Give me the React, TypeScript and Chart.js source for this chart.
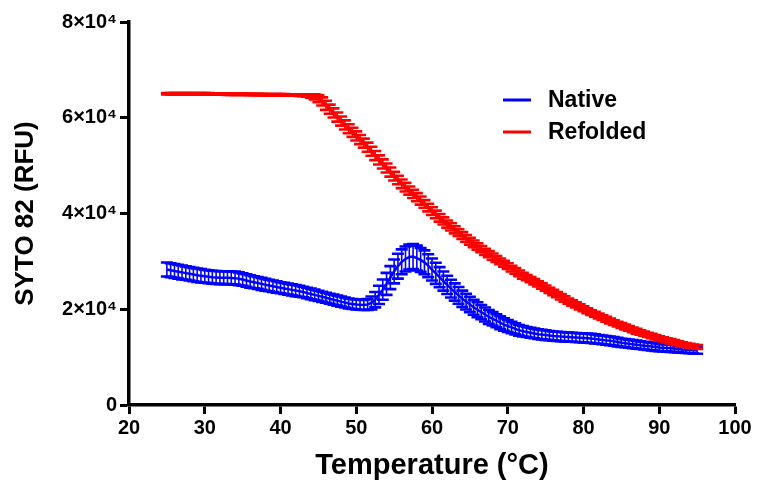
import React, { useEffect, useRef } from 'react';
import { Chart, registerables } from 'chart.js';

Chart.register(...registerables);

// Temperatures (°C) of the melt-curve readings
const temperatures: number[] = [
  25, 25.5, 26, 26.5, 27, 27.5, 28, 28.5, 29, 29.5,
  30, 30.5, 31, 31.5, 32, 32.5, 33, 33.5, 34, 34.5,
  35, 35.5, 36, 36.5, 37, 37.5, 38, 38.5, 39, 39.5,
  40, 40.5, 41, 41.5, 42, 42.5, 43, 43.5, 44, 44.5,
  45, 45.5, 46, 46.5, 47, 47.5, 48, 48.5, 49, 49.5,
  50, 50.5, 51, 51.5, 52, 52.5, 53, 53.5, 54, 54.5,
  55, 55.5, 56, 56.5, 57, 57.5, 58, 58.5, 59, 59.5,
  60, 60.5, 61, 61.5, 62, 62.5, 63, 63.5, 64, 64.5,
  65, 65.5, 66, 66.5, 67, 67.5, 68, 68.5, 69, 69.5,
  70, 70.5, 71, 71.5, 72, 72.5, 73, 73.5, 74, 74.5,
  75, 75.5, 76, 76.5, 77, 77.5, 78, 78.5, 79, 79.5,
  80, 80.5, 81, 81.5, 82, 82.5, 83, 83.5, 84, 84.5,
  85, 85.5, 86, 86.5, 87, 87.5, 88, 88.5, 89, 89.5,
  90, 90.5, 91, 91.5, 92, 92.5, 93, 93.5, 94, 94.5,
  95,
];

// Native: mean fluorescence (thousands of RFU)
const nativeMeanK: number[] = [
  28.3, 28.15, 28.0, 27.85, 27.7, 27.55, 27.4, 27.25, 27.1, 27.0,
  26.9, 26.8, 26.7, 26.65, 26.6, 26.6, 26.6, 26.55, 26.5, 26.35,
  26.2, 26.0, 25.8, 25.65, 25.5, 25.3, 25.1, 24.95, 24.8, 24.65,
  24.5, 24.35, 24.2, 24.05, 23.9, 23.75, 23.6, 23.4, 23.2, 23.0,
  22.8, 22.6, 22.4, 22.2, 22.0, 21.8, 21.6, 21.4, 21.2, 21.1,
  21.0, 20.95, 20.9, 21.0, 21.3, 22.0, 23.0, 24.1, 25.3, 26.6,
  27.9, 29.0, 29.9, 30.5, 30.9, 31.0, 30.7, 30.3, 29.8, 29.1,
  28.3, 27.5, 26.7, 25.9, 25.1, 24.3, 23.6, 22.9, 22.2, 21.6,
  21.0, 20.4, 19.9, 19.4, 18.9, 18.4, 18.0, 17.6, 17.2, 16.8,
  16.5, 16.2, 15.9, 15.6, 15.4, 15.25, 15.1, 14.95, 14.8, 14.7,
  14.6, 14.5, 14.4, 14.35, 14.3, 14.25, 14.2, 14.15, 14.1, 14.05,
  14.0, 13.95, 13.9, 13.8, 13.7, 13.6, 13.5, 13.4, 13.3, 13.15,
  13.0, 12.9, 12.8, 12.7, 12.6, 12.5, 12.4, 12.3, 12.2, 12.1,
  12.0, 11.95, 11.9, 11.85, 11.8, 11.7, 11.6, 11.55, 11.5, 11.45,
  11.4,
];

// Native: error (thousands of RFU)
const nativeErrK: number[] = [
  1.45, 1.45, 1.45, 1.45, 1.45, 1.4, 1.4, 1.4, 1.4, 1.4,
  1.35, 1.35, 1.35, 1.35, 1.35, 1.35, 1.35, 1.35, 1.35, 1.35,
  1.3, 1.3, 1.3, 1.25, 1.25, 1.25, 1.25, 1.2, 1.2, 1.2,
  1.15, 1.15, 1.15, 1.15, 1.15, 1.15, 1.1, 1.1, 1.1, 1.1,
  1.05, 1.05, 1.05, 1.05, 1.05, 1.05, 1.05, 1.05, 1.05, 1.05,
  1.05, 1.05, 1.05, 1.15, 1.35, 1.6, 1.9, 2.1, 2.3, 2.4,
  2.5, 2.6, 2.6, 2.6, 2.6, 2.6, 2.6, 2.5, 2.5, 2.4,
  2.3, 2.2, 2.1, 2.0, 1.9, 1.85, 1.8, 1.75, 1.7, 1.65,
  1.6, 1.55, 1.55, 1.5, 1.45, 1.45, 1.4, 1.35, 1.35, 1.3,
  1.25, 1.2, 1.15, 1.1, 1.1, 1.05, 1.05, 1.0, 1.0, 1.0,
  1.0, 0.95, 0.95, 0.95, 0.95, 0.95, 0.95, 0.95, 0.95, 0.95,
  0.95, 0.95, 0.95, 0.95, 0.9, 0.9, 0.9, 0.9, 0.9, 0.9,
  0.85, 0.85, 0.85, 0.85, 0.85, 0.8, 0.8, 0.8, 0.8, 0.8,
  0.75, 0.75, 0.75, 0.75, 0.75, 0.7, 0.7, 0.7, 0.7, 0.7,
  0.7,
];

// Refolded: mean fluorescence (thousands of RFU)
const refoldedMeanK: number[] = [
  65.0, 65.0, 65.0, 65.0, 65.0, 65.0, 65.0, 65.0, 65.0, 65.0,
  65.0, 65.0, 64.95, 64.95, 64.95, 64.95, 64.9, 64.9, 64.9, 64.9,
  64.9, 64.9, 64.85, 64.85, 64.85, 64.85, 64.8, 64.8, 64.8, 64.8,
  64.8, 64.8, 64.75, 64.75, 64.75, 64.7, 64.7, 64.65, 64.55, 64.35,
  64.0, 63.4, 62.6, 61.8, 61.0, 60.15, 59.3, 58.5, 57.7, 56.95,
  56.2, 55.45, 54.7, 53.85, 53.0, 52.1, 51.2, 50.35, 49.5, 48.65,
  47.8, 47.0, 46.2, 45.5, 44.8, 44.1, 43.4, 42.7, 42.0, 41.25,
  40.5, 39.8, 39.1, 38.45, 37.8, 37.2, 36.6, 36.0, 35.4, 34.8,
  34.2, 33.65, 33.1, 32.55, 32.0, 31.5, 31.0, 30.5, 30.0, 29.5,
  29.0, 28.5, 28.0, 27.5, 27.0, 26.6, 26.2, 25.75, 25.3, 24.85,
  24.4, 23.95, 23.5, 23.05, 22.6, 22.15, 21.7, 21.3, 20.9, 20.5,
  20.1, 19.7, 19.3, 18.95, 18.6, 18.25, 17.9, 17.55, 17.2, 16.9,
  16.6, 16.3, 16.0, 15.7, 15.4, 15.15, 14.9, 14.65, 14.4, 14.15,
  13.9, 13.7, 13.5, 13.3, 13.1, 12.9, 12.7, 12.55, 12.4, 12.25,
  12.1,
];

// Refolded: error (thousands of RFU)
const refoldedErrK: number[] = [
  0.15, 0.15, 0.15, 0.15, 0.15, 0.15, 0.15, 0.15, 0.15, 0.15,
  0.15, 0.15, 0.15, 0.15, 0.15, 0.15, 0.15, 0.15, 0.15, 0.15,
  0.15, 0.15, 0.15, 0.15, 0.15, 0.15, 0.15, 0.15, 0.15, 0.15,
  0.15, 0.15, 0.15, 0.15, 0.15, 0.15, 0.2, 0.25, 0.35, 0.55,
  0.75, 0.85, 0.95, 0.95, 0.95, 0.95, 0.95, 0.95, 0.95, 0.95,
  0.95, 0.95, 0.95, 0.95, 0.95, 0.95, 0.95, 0.95, 0.95, 0.95,
  0.9, 0.9, 0.9, 0.9, 0.85, 0.85, 0.85, 0.85, 0.8, 0.8,
  0.8, 0.8, 0.8, 0.75, 0.75, 0.75, 0.75, 0.7, 0.7, 0.7,
  0.7, 0.7, 0.65, 0.65, 0.65, 0.65, 0.65, 0.6, 0.6, 0.6,
  0.6, 0.6, 0.6, 0.6, 0.6, 0.55, 0.55, 0.55, 0.55, 0.55,
  0.55, 0.55, 0.55, 0.55, 0.55, 0.55, 0.55, 0.55, 0.55, 0.55,
  0.5, 0.5, 0.5, 0.5, 0.5, 0.5, 0.5, 0.5, 0.5, 0.5,
  0.5, 0.5, 0.5, 0.5, 0.5, 0.45, 0.45, 0.45, 0.45, 0.45,
  0.45, 0.45, 0.45, 0.45, 0.45, 0.4, 0.4, 0.4, 0.4, 0.4,
  0.4,
];

const seriesNames: string[] = ['Native', 'Refolded'];
const seriesColors: string[] = ['#0000FF', '#FF0000'];
const xTicks: number[] = [20, 30, 40, 50, 60, 70, 80, 90, 100];
const yTicks: number[] = [0, 20000, 40000, 60000, 80000];

const FONT = "'Liberation Sans', Arial, Helvetica, sans-serif";
const SCALE_K = 1000;

const errorBarPlugin = {
  id: 'errorBars',
  afterDatasetDraw(chart: any, args: any) {
    const ds = chart.data.datasets[args.index];
    const errs: number[] | undefined = ds.errorValues;
    if (!errs) return;
    const yScale = chart.scales.y;
    const ctx = chart.ctx;
    ctx.save();
    ctx.strokeStyle = ds.borderColor;
    ctx.lineCap = 'butt';
    args.meta.data.forEach((pt: any, i: number) => {
      const v = ds.data[i].y;
      const yTop = yScale.getPixelForValue(v + errs[i]);
      const yBot = yScale.getPixelForValue(v - errs[i]);
      const x = pt.x;
      ctx.lineWidth = 1.6;
      ctx.beginPath();
      ctx.moveTo(x, yTop);
      ctx.lineTo(x, yBot);
      ctx.stroke();
      ctx.lineWidth = 2.6;
      ctx.beginPath();
      ctx.moveTo(x - 6, yTop);
      ctx.lineTo(x + 6, yTop);
      ctx.moveTo(x - 6, yBot);
      ctx.lineTo(x + 6, yBot);
      ctx.stroke();
    });
    ctx.restore();
  },
};

const legendPlugin = {
  id: 'insideLegend',
  afterDraw(chart: any) {
    const ctx = chart.ctx;
    ctx.save();
    ctx.font = `bold 23px ${FONT}`;
    ctx.textBaseline = 'middle';
    ctx.textAlign = 'left';
    seriesNames.forEach((name, i) => {
      const y = 100 + i * 32;
      ctx.strokeStyle = seriesColors[i];
      ctx.lineWidth = 3;
      ctx.beginPath();
      ctx.moveTo(503, y);
      ctx.lineTo(531, y);
      ctx.stroke();
      ctx.fillStyle = '#000';
      ctx.fillText(name, 548, y + 1);
    });
    ctx.restore();
  },
};

export default function App() {
  const canvasRef = useRef<HTMLCanvasElement | null>(null);

  useEffect(() => {
    if (!canvasRef.current) return;
    const nativeData = temperatures.map((t, i) => ({ x: t, y: nativeMeanK[i] * SCALE_K }));
    const refoldedData = temperatures.map((t, i) => ({ x: t, y: refoldedMeanK[i] * SCALE_K }));
    const chart = new Chart(canvasRef.current, {
      type: 'line',
      data: {
        datasets: [
          {
            label: seriesNames[0],
            data: nativeData,
            borderColor: seriesColors[0],
            backgroundColor: seriesColors[0],
            borderWidth: 2.5,
            pointRadius: 0,
            tension: 0,
            order: 2,
            errorValues: nativeErrK.map((e) => e * SCALE_K),
          } as any,
          {
            label: seriesNames[1],
            data: refoldedData,
            borderColor: seriesColors[1],
            backgroundColor: seriesColors[1],
            borderWidth: 3,
            pointRadius: 0,
            tension: 0,
            order: 1,
            errorValues: refoldedErrK.map((e) => e * SCALE_K),
          } as any,
        ],
      },
      options: {
        responsive: false,
        animation: false,
        layout: { padding: { left: 0, right: 28, top: 22, bottom: 0 } },
        plugins: {
          legend: { display: false },
          tooltip: { enabled: false },
        },
        scales: {
          x: {
            type: 'linear',
            min: 20,
            max: 100,
            afterFit: (s: any) => {
              s.height = 84;
            },
            afterBuildTicks: (s: any) => {
              s.ticks = xTicks.map((v) => ({ value: v }));
            },
            ticks: {
              color: '#000',
              font: { family: FONT, weight: 'bold', size: 20 },
              padding: 2,
              maxRotation: 0,
            },
            grid: {
              display: true,
              drawOnChartArea: false,
              drawTicks: true,
              tickLength: 9,
              tickWidth: 3,
              tickColor: '#000',
            },
            border: { display: true, color: '#000', width: 3.5 },
            title: {
              display: true,
              text: 'Temperature (°C)',
              color: '#000',
              font: { family: FONT, weight: 'bold', size: 29 },
              padding: { top: 0, bottom: 6 },
            },
          },
          y: {
            type: 'linear',
            min: 0,
            max: 80000,
            afterFit: (s: any) => {
              s.width = 129;
            },
            afterBuildTicks: (s: any) => {
              s.ticks = yTicks.map((v) => ({ value: v }));
            },
            ticks: {
              color: '#000',
              font: { family: FONT, weight: 'bold', size: 20 },
              padding: 3,
              callback: (v: any) => (Number(v) === 0 ? '0' : `${Number(v) / 10000}×10⁴`),
            },
            grid: {
              display: true,
              drawOnChartArea: false,
              drawTicks: true,
              tickLength: 9,
              tickWidth: 3,
              tickColor: '#000',
            },
            border: { display: true, color: '#000', width: 3.5 },
            title: {
              display: true,
              text: 'SYTO 82 (RFU)',
              color: '#000',
              font: { family: FONT, weight: 'bold', size: 26 },
              padding: { top: 10, bottom: 0 },
            },
          },
        },
      } as any,
      plugins: [errorBarPlugin, legendPlugin],
    });
    return () => {
      chart.destroy();
    };
  }, []);

  return (
    <div style={{ position: 'fixed', left: 0, top: 0, width: 763, height: 489, background: '#fff' }}>
      <canvas ref={canvasRef} width={763} height={489} style={{ display: 'block' }} />
    </div>
  );
}
